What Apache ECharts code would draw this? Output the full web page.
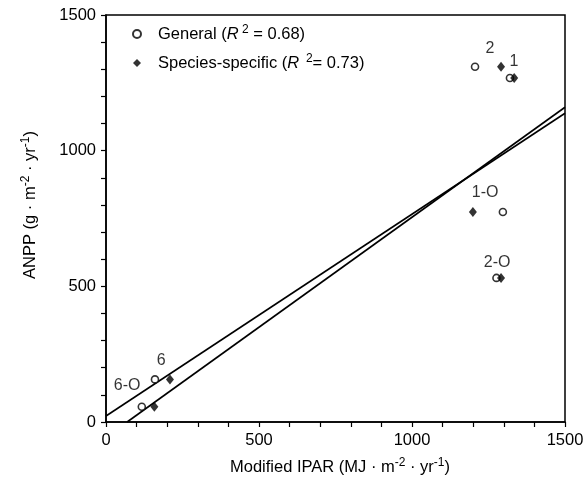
<!DOCTYPE html>
<html>
<head>
<meta charset="utf-8">
<script src="https://cdn.jsdelivr.net/npm/echarts@6/dist/echarts.min.js"></script>
<style>html,body{margin:0;padding:0;background:#fff}#c{width:587px;height:496px}</style>
</head>
<body>
<div id="c"></div>
<script>
// ---- data ----
const generalPts = [[1206,1309],[1320,1268],[1297,774],[1276,531],[160,157],[117,56]];
const speciesPts = [[1291,1309],[1334,1268],[1199,774],[1291,531],[209,157],[158,56]];
const lineGeneral = [[0,22],[1500,1138]];
const lineSpecies = [[69,0],[1500,1160]];
const pointLabels = [
  {name:'2', value:[1255,1375]},
  {name:'1', value:[1333,1327]},
  {name:'1-O', value:[1239,844]},
  {name:'2-O', value:[1278,586]},
  {name:'6', value:[180,225]},
  {name:'6-O', value:[69,133]}
];
const xTicks = [0,500,1000,1500];
const yTicks = [0,500,1000,1500];

const FONT = '"Liberation Sans", Arial, Helvetica, sans-serif';
const chart = echarts.init(document.getElementById('c'), null, {renderer:'canvas'});
const black = '#000';
const rich = {
  n:{fontFamily:FONT,fontSize:16.5,color:black,lineHeight:20},
  i:{fontFamily:FONT,fontSize:16.5,color:black,fontStyle:'italic',lineHeight:20},
  s:{fontFamily:FONT,fontSize:12,color:black,verticalAlign:'top',lineHeight:20,padding:[0,0,8,0]}
};
const legendText = {
  'General':'{n|General (}{i|R}{s| 2}{n| = 0.68)}',
  'Species-specific':'{n|Species-specific (}{i|R}{s|  2}{n|= 0.73)}'
};
chart.setOption({
  animation:false,
  backgroundColor:'#fff',
  grid:{left:106,right:22,top:15,bottom:74,show:true,borderColor:black,borderWidth:1.5,backgroundColor:'transparent'},
  legend:{
    orient:'vertical', left:127, top:19, itemGap:9, itemWidth:8, itemHeight:8,
    data:['General','Species-specific'],
    formatter:n=>legendText[n],
    textStyle:{rich:rich,padding:[0,0,0,12]}
  },
  xAxis:{type:'value',min:0,max:1500,interval:100,position:'bottom',
     axisLine:{lineStyle:{color:black,width:1.5}},
     axisTick:{show:true,inside:false,length:5,lineStyle:{color:black,width:1.2}},
     axisLabel:{margin:10,fontFamily:FONT,fontSize:16.5,color:black,formatter:v=>xTicks.includes(v)?String(v):''},
     splitLine:{show:false}},
  yAxis:{type:'value',min:0,max:1500,interval:100,position:'left',
     axisLine:{show:true,lineStyle:{color:black,width:1.5}},
     axisTick:{show:true,inside:false,length:5,lineStyle:{color:black,width:1.2}},
     axisLabel:{margin:10,fontFamily:FONT,fontSize:16.5,color:black,formatter:v=>yTicks.includes(v)?String(v):''},
     splitLine:{show:false}},
  graphic:[
    {type:'text',x:340,y:467,style:{
      text:'{n|Modified IPAR (MJ · m}{s|-2}{n| · yr}{s|-1}{n|)}',
      align:'center',verticalAlign:'middle',rich:rich}},
    {type:'text',x:30,y:205,rotation:Math.PI/2,style:{
      text:'{n|ANPP (g · m}{s|-2}{n| · yr}{s|-1}{n|)}',
      align:'center',verticalAlign:'middle',rich:rich}}
  ],
  series:[
    {name:'General',type:'scatter',data:generalPts,symbol:'circle',symbolSize:7,
     itemStyle:{color:'#fff',borderColor:black,borderWidth:1.6},z:5},
    {name:'Species-specific',type:'scatter',data:speciesPts,symbol:'diamond',symbolSize:[8,10],
     itemStyle:{color:black},z:6},
    {name:'lineG',type:'line',data:lineGeneral,symbol:'none',lineStyle:{color:black,width:1.6},z:3},
    {name:'lineS',type:'line',data:lineSpecies,symbol:'none',lineStyle:{color:black,width:1.6},z:3},
    {name:'labels',type:'scatter',data:pointLabels,symbolSize:0,silent:true,
     label:{show:true,position:'inside',formatter:p=>p.name,fontFamily:FONT,fontSize:16,color:black}}
  ]
});
</script>
</body>
</html>
